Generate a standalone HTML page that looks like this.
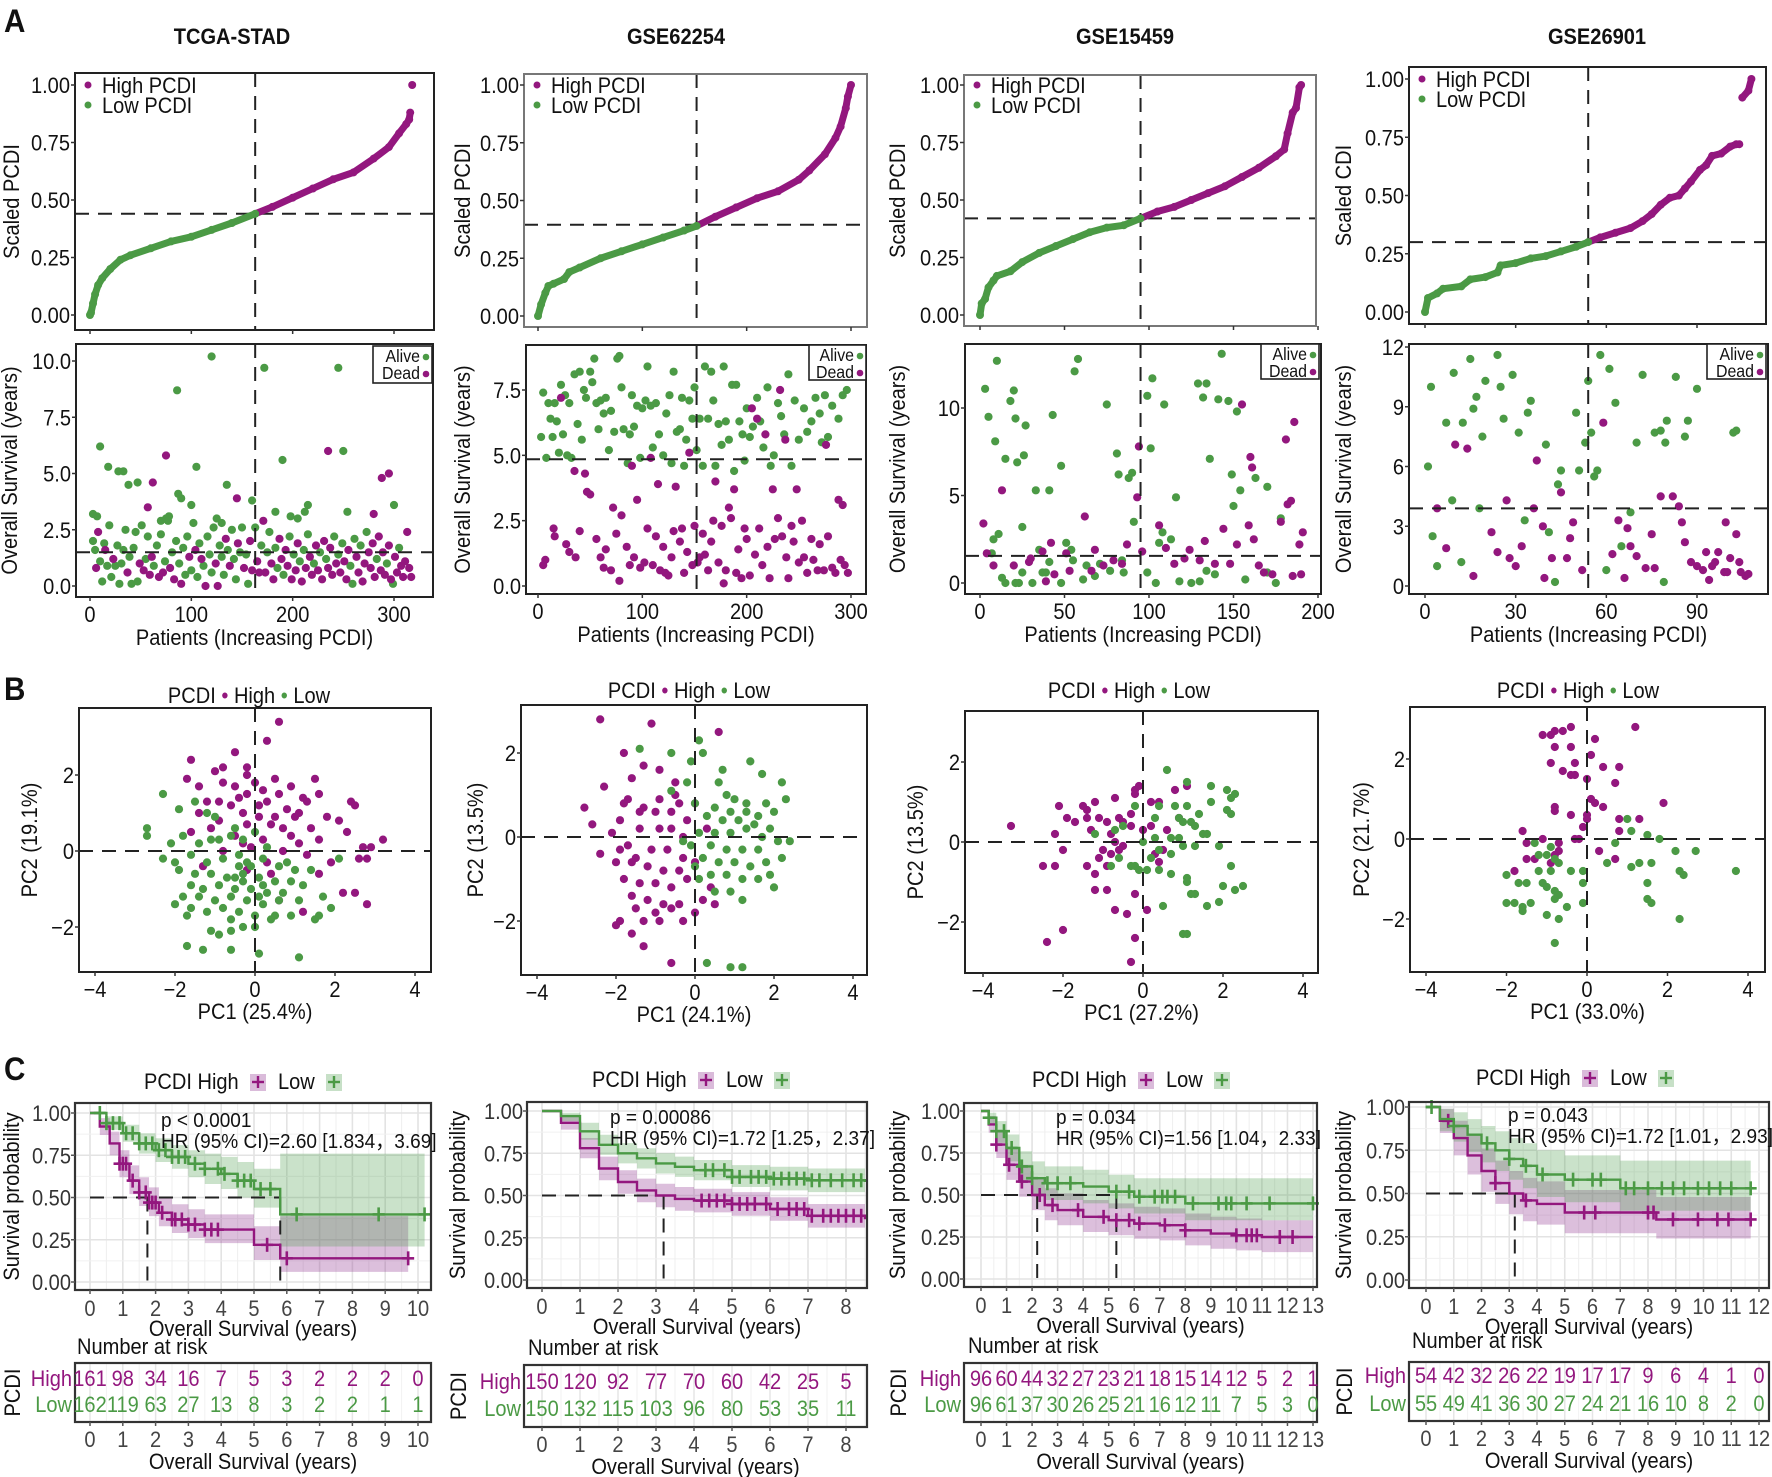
<!DOCTYPE html>
<html><head><meta charset="utf-8"><style>
html,body{margin:0;padding:0;background:#fff;}
svg{display:block;font-family:"Liberation Sans",Arial,sans-serif;}
</style></head><body>
<svg id="fig" width="1772" height="1477" viewBox="0 0 1772 1477" xmlns="http://www.w3.org/2000/svg"></svg>
<script>
// ---------- DATA ----------
const a1Curve=[[0,0],[1,0.01],[3,0.05],[5,0.09],[8,0.13],[12,0.16],[20,0.2],[30,0.24],[40,0.26],[60,0.29],[80,0.32],[100,0.34],[120,0.37],[140,0.4],[163,0.44],[180,0.47],[200,0.51],[220,0.55],[240,0.59],[260,0.62],[280,0.68],[295,0.73],[305,0.79],[312,0.83],[315,0.85],[316,0.88],[318,1.0]];
const a2Curve=[[0,0],[3,0.05],[7,0.1],[10,0.13],[15,0.14],[25,0.16],[30,0.19],[40,0.21],[60,0.25],[80,0.28],[100,0.31],[120,0.34],[140,0.37],[152,0.39],[170,0.43],[190,0.47],[210,0.51],[230,0.54],[250,0.59],[260,0.63],[275,0.7],[285,0.77],[290,0.82],[295,0.9],[297,0.95],[300,1.0]];
const a3Curve=[[0,0],[1,0.05],[3,0.07],[5,0.12],[8,0.15],[10,0.17],[18,0.19],[25,0.23],[35,0.27],[45,0.3],[55,0.33],[65,0.36],[75,0.38],[85,0.39],[95,0.42],[105,0.45],[115,0.47],[125,0.5],[135,0.53],[145,0.56],[155,0.6],[165,0.64],[175,0.69],[180,0.72],[182,0.79],[185,0.88],[187,0.9],[189,0.99],[190,1.0]];
const a4Curve=[[0,0],[1,0.06],[4,0.08],[6,0.1],[12,0.11],[15,0.14],[20,0.15],[24,0.17],[25,0.2],[30,0.21],[35,0.23],[40,0.24],[45,0.26],[50,0.28],[54,0.3],[58,0.32],[63,0.34],[68,0.36],[72,0.39],[75,0.42],[78,0.46],[81,0.49],[84,0.5],[86,0.53],[88,0.56],[91,0.61],[93,0.63],[95,0.67],[98,0.68],[101,0.71],[103,0.72],[104,0.72],[105,0.92],[107,0.95],[108,1.0]];
const aSplit=[163,152,95,54];
const aCut=[0.44,0.395,0.42,0.30];
const aSurvCut=[1.5,4.85,1.55,3.9];

const a1Alive=[[120,10.2],[172,9.7],[245,9.7],[86,8.7],[10,6.2],[18,5.3],[28,5.1],[33,5.1],[38,4.5],[47,4.6],[105,5.3],[135,4.5],[190,5.6],[250,6.0],[160,3.8],[87,4.1],[90,3.9],[100,3.6],[215,3.6],[300,3.6],[254,3.3],[3,3.2],[7,3.1],[183,3.3],[198,3.1],[205,3.0],[212,3.3],[75,3.0],[78,3.1],[70,2.9],[125,3.0],[130,2.8],
[3,2.0],[5,1.6],[10,1.1],[12,0.2],[14,1.9],[17,0.9],[19,2.7],[21,0.4],[25,0.9],[27,1.8],[29,0.1],[31,1.0],[33,1.6],[35,2.5],[39,1.3],[41,0.1],[43,1.7],[45,2.4],[47,0.2],[51,2.7],[55,1.2],[57,2.2],[63,0.9],[66,1.8],[70,2.3],[74,1.1],[77,2.9],[81,1.5],[85,2.0],[88,1.0],[92,1.7],[94,0.5],[96,2.2],[100,0.7],[102,2.8],[106,0.4],[108,1.9],[112,0.9],[116,2.2],[118,1.4],[120,0.6],[122,2.6],[128,1.8],[130,1.3],[132,0.5],[136,1.6],[140,2.5],[142,1.2],[144,0.3],[148,1.5],[150,2.6],[154,1.4],[156,0.1],[163,2.6],[169,1.8],[175,1.5],[177,2.4],[183,1.7],[185,0.8],[191,0.5],[197,2.2],[201,1.4],[207,1.1],[211,1.6],[215,2.3],[221,1.0],[227,1.5],[233,1.2],[241,2.2],[245,1.4],[249,1.9],[257,0.9],[259,0.1],[261,2.1],[267,1.8],[273,2.4],[283,1.2],[293,1.0],[299,0.1],[305,1.7]];
const a1Dead=[[75,5.8],[235,6.0],[62,4.6],[57,3.5],[288,4.8],[295,5.0],[145,3.9],[280,3.2],[8,2.4],[6,0.8],[15,1.6],[23,1.2],[37,0.6],[49,1.0],[53,0.7],[59,0.5],[61,1.3],[68,0.4],[72,0.6],[79,0.8],[83,0.3],[90,0.1],[98,1.3],[104,1.6],[110,1.2],[114,0.0],[124,1.0],[126,0.0],[134,2.1],[138,0.9],[146,1.9],[152,0.8],[158,2.0],[160,0.7],[165,1.1],[167,0.6],[171,2.9],[173,0.6],[179,1.0],[181,0.3],[187,2.1],[189,1.2],[193,1.6],[195,0.9],[199,0.3],[203,0.7],[205,1.9],[209,0.2],[213,0.8],[217,1.3],[219,0.5],[223,1.8],[225,0.7],[229,0.3],[231,2.0],[235,0.8],[237,1.7],[239,0.5],[243,1.0],[247,0.6],[251,1.1],[253,0.3],[255,1.6],[263,1.3],[265,0.6],[269,0.2],[271,1.0],[275,1.5],[277,0.8],[279,1.9],[281,0.4],[285,2.2],[287,0.7],[289,1.5],[291,0.5],[295,1.8],[297,0.3],[301,1.3],[303,0.6],[307,0.9],[309,0.4],[311,1.1],[313,2.4],[315,0.8],[317,0.4]];

const a2Alive=[[3,5.7],[5,7.4],[8,4.9],[10,7.0],[12,6.4],[14,5.7],[16,7.0],[18,6.3],[20,5.1],[22,7.7],[24,5.8],[26,7.3],[28,5.0],[30,7.0],[32,4.9],[35,8.1],[38,6.2],[40,8.2],[42,5.6],[44,7.5],[46,7.2],[50,8.2],[52,7.8],[54,8.7],[56,7.0],[58,6.0],[60,7.1],[63,6.6],[65,7.2],[68,5.2],[70,6.7],[73,5.9],[76,8.7],[78,8.8],[80,7.6],[82,6.0],[86,4.7],[88,5.8],[90,7.3],[92,6.1],[95,6.9],[98,4.9],[100,6.8],[103,7.1],[105,8.4],[108,6.9],[110,5.3],[113,7.0],[116,5.8],[120,5.0],[123,6.6],[126,7.3],[128,4.7],[130,8.2],[133,5.9],[136,6.0],[138,7.2],[140,4.6],[142,5.6],[145,7.1],[148,6.4],[150,7.6],[152,5.2],[155,6.4],[158,4.6],[160,8.4],[163,6.4],[166,8.2],[168,7.1],[170,4.6],[173,6.2],[176,5.4],[178,8.4],[180,6.3],[183,5.6],[186,7.7],[188,4.4],[190,7.7],[193,6.3],[196,5.8],[198,4.8],[200,6.8],[203,5.7],[206,6.1],[210,7.2],[213,6.3],[216,5.3],[220,7.6],[223,4.6],[226,5.0],[230,7.0],[233,6.5],[236,5.8],[240,8.1],[243,4.6],[246,7.1],[250,5.6],[255,6.8],[258,5.9],[262,6.3],[266,7.2],[270,6.6],[272,5.5],[275,7.3],[278,5.7],[282,6.9],[288,6.4],[292,7.3],[296,7.5]];
const a2Dead=[[5,0.8],[7,1.0],[15,2.2],[16,1.9],[22,7.2],[27,1.6],[30,1.3],[35,4.4],[36,1.1],[40,2.1],[45,4.3],[47,3.6],[50,3.5],[56,1.8],[60,1.1],[63,0.7],[65,1.4],[70,0.6],[72,3.0],[75,2.0],[78,0.2],[80,2.7],[85,1.5],[88,0.8],[90,4.6],[92,1.1],[95,3.3],[98,0.7],[102,0.9],[105,2.2],[108,4.9],[110,0.8],[113,1.9],[115,3.9],[117,0.6],[120,1.5],[122,0.5],[125,0.4],[128,1.1],[130,2.1],[132,3.8],[136,1.7],[138,2.2],[140,0.5],[143,1.3],[145,5.1],[148,0.8],[150,2.3],[153,0.9],[155,1.1],[158,2.0],[160,1.2],[163,0.6],[166,1.7],[168,2.5],[170,4.0],[173,0.9],[176,2.3],[178,0.1],[180,0.6],[183,3.0],[185,2.6],[188,3.7],[190,0.5],[192,1.4],[195,0.3],[198,2.2],[200,1.8],[203,0.4],[205,6.8],[208,1.2],[210,6.4],[212,2.2],[215,0.8],[218,5.8],[220,1.5],[222,0.3],[225,3.7],[227,1.8],[230,2.6],[232,7.5],[234,1.9],[237,5.6],[238,1.1],[240,0.3],[243,2.3],[245,1.7],[248,3.7],[250,0.9],[253,2.5],[255,1.1],[258,0.5],[262,1.8],[264,1.0],[268,0.6],[270,1.6],[274,0.6],[276,5.4],[278,1.9],[282,0.7],[285,0.5],[288,3.3],[290,1.0],[292,3.1],[294,0.8],[297,0.5]];

const a3Alive=[[3,11.1],[5,9.5],[9,8.1],[10,12.7],[11,2.8],[15,7.1],[18,10.4],[20,11.0],[21,9.4],[22,6.9],[27,9.0],[26,7.3],[25,3.2],[33,5.3],[41,5.3],[43,9.6],[48,6.7],[56,12.1],[58,12.8],[75,10.2],[81,7.4],[82,6.2],[88,6.0],[90,6.3],[91,3.5],[99,10.7],[101,7.7],[102,11.7],[109,10.2],[116,4.9],[129,11.4],[134,11.4],[132,10.6],[136,7.1],[141,10.5],[143,13.1],[147,10.4],[149,6.2],[150,4.4],[152,9.8],[154,5.3],[163,6.0],[170,5.5],[178,3.7],[7,1.7],[8,2.5],[13,0.3],[15,0],[21,0],[23,0],[25,0.6],[31,0],[35,1.9],[37,0.6],[39,0.6],[41,1.2],[48,0],[51,2.3],[54,1.9],[55,1.3],[61,0.2],[63,1.0],[68,0.4],[71,1.1],[77,0.7],[84,1.3],[85,0.6],[99,0.6],[104,0],[106,2.3],[108,2.9],[113,2.5],[118,0.1],[125,0],[130,0.1],[134,0.7],[139,0.5],[157,0.2],[170,0.6],[175,0]];
const a3Dead=[[2,3.4],[4,1.7],[8,1.0],[13,5.3],[20,1.0],[29,1.2],[30,1.4],[37,1.8],[39,0.1],[42,2.3],[44,0.5],[51,1.7],[53,0.7],[62,3.8],[66,0.7],[68,1.9],[73,1.0],[79,1.3],[84,1.1],[87,2.2],[93,4.9],[94,7.8],[96,1.8],[106,3.3],[110,2.0],[115,1.1],[121,1.4],[124,1.9],[130,1.3],[133,2.4],[139,1.1],[144,3.1],[148,1.1],[152,2.2],[155,10.2],[159,3.3],[160,7.2],[161,6.6],[162,2.5],[165,1.0],[168,0.6],[173,0.5],[178,3.5],[181,8.2],[182,4.5],[184,4.7],[186,9.2],[189,2.2],[191,2.9],[190,0.5],[185,0.4]];

const a4Alive=[[1,6.0],[2,10.0],[2.5,2.5],[4,1.0],[7,8.2],[9,4.3],[9.5,10.7],[12,1.2],[12.5,8.2],[15,11.4],[16,8.9],[17,9.5],[18,3.9],[19,7.5],[20,10.3],[24,11.6],[25,10.0],[26,8.4],[29,10.6],[31,7.7],[33,3.3],[34,8.7],[35,9.3],[40,7.1],[41,2.7],[43,0.2],[44,5.1],[45,5.8],[50,8.7],[51,5.8],[53,7.2],[54,10.3],[55,7.7],[56,5.5],[57,5.8],[58,11.6],[61,10.9],[60,0.8],[63,9.2],[65,2.0],[68,3.7],[70,7.2],[72,10.6],[76,7.7],[78,7.8],[79,0.2],[79.5,7.2],[80,8.3],[83,10.5],[86,7.5],[87,8.3],[90,9.9],[102,7.7],[103,7.8]];
const a4Dead=[[4,3.9],[7,1.9],[10,7.1],[14,6.9],[16,0.5],[22,2.7],[24,1.7],[27,4.3],[28,1.4],[30,1.0],[32,2.0],[36,3.9],[37,6.3],[39,3.0],[39.5,0.4],[42,1.4],[45,4.7],[47,1.4],[48,2.4],[49,3.2],[52,0.8],[59,8.2],[62,1.6],[64,3.3],[67,2.9],[66,0.4],[68,2.0],[70,1.5],[73,0.9],[75,2.6],[76,0.9],[78,4.5],[82,4.5],[84,4.0],[85,3.2],[86,2.2],[88,1.2],[90,1.0],[92,0.8],[93,1.7],[94,0.3],[95,1.0],[96,1.2],[97,1.7],[99,0.7],[99.5,3.2],[101,1.4],[103,2.6],[100,0.7],[104,1.2],[104.5,0.7],[106,0.5],[107,0.6]];

const b1High=[[0.6,3.4],[0.3,2.9],[-0.5,2.6],[-1.6,2.4],[-0.8,2.2],[-1,2.1],[-0.2,2.2],[-0.2,2.0],[-1.7,1.9],[-1.4,1.7],[-0.8,1.8],[-0.5,1.7],[0,1.8],[0.5,1.9],[0.9,1.7],[1.5,1.9],[-0.2,1.5],[0.2,1.6],[0.6,1.5],[1.2,1.4],[1.6,1.5],[2.4,1.3],[2.5,1.2],[-1.2,1.3],[-0.9,1.3],[-0.6,1.2],[0.1,1.2],[0.8,1.1],[1.3,1.3],[-1.4,1.0],[-0.3,1.0],[0.5,0.9],[1.0,0.9],[1.8,0.9],[2.1,0.8],[-0.9,0.8],[-1.1,0.6],[-0.2,0.7],[0.4,0.7],[1.4,0.6],[2.3,0.5],[-1.6,0.5],[-0.5,0.4],[0.9,0.4],[1.6,0.3],[0.2,0.3],[-0.3,0.2],[1.1,0.2],[2.7,0.1],[3.2,0.3],[2.9,0.1],[-0.1,0.1],[0.7,0],[1.3,-0.1],[2.6,-0.2],[2.8,-0.2],[0.3,-0.3],[1.9,-0.3],[-1.3,-0.4],[0.4,-0.6],[2.2,-1.1],[2.5,-1.1],[2.8,-1.4],[1.2,-1.6],[0.6,-1.3],[-0.2,-0.5],[1.6,-0.6],[-0.8,0.0],[0.1,0.9],[0.7,0.6],[1.1,1.0],[-0.4,1.4],[0.3,1.3]];
const b1Low=[[-2.3,1.5],[-1.9,1.1],[-1.5,1.3],[-1.2,1.0],[-1.0,0.9],[-2.7,0.6],[-2.7,0.4],[-2.1,0.2],[-1.8,0.4],[-1.4,0.2],[-1.1,0.3],[-0.6,0.4],[-0.3,0.3],[-2.3,-0.2],[-2.0,-0.3],[-1.6,-0.1],[-1.2,-0.3],[-0.8,-0.2],[-0.4,-0.1],[0.2,-0.2],[0.6,-0.4],[1.0,-0.5],[1.4,-0.5],[2.1,-0.2],[-1.9,-0.5],[-1.5,-0.6],[-1.1,-0.6],[-0.7,-0.7],[-0.3,-0.6],[0.1,-0.7],[0.5,-0.8],[0.9,-0.8],[-1.6,-0.9],[-1.3,-1.0],[-0.9,-0.9],[-0.5,-1.0],[-0.1,-1.0],[0.3,-1.1],[0.7,-1.1],[-1.8,-1.2],[-1.4,-1.2],[-1.0,-1.3],[-0.6,-1.2],[-0.2,-1.3],[0.2,-1.4],[0.6,-1.3],[1.1,-1.3],[1.7,-1.2],[-2.0,-1.4],[-1.6,-1.5],[-1.2,-1.6],[-0.8,-1.5],[-0.4,-1.6],[0.0,-1.7],[0.5,-1.7],[1.6,-1.7],[1.9,-1.5],[-1.7,-1.7],[-0.6,-1.8],[0.4,-1.8],[0.9,-1.7],[1.5,-1.8],[-1.1,-2.1],[-0.6,-2.1],[-0.3,-2.0],[-0.9,-2.2],[0,-2.0],[-1.7,-2.5],[-1.3,-2.6],[-0.6,-2.6],[0.1,-2.7],[1.1,-2.8],[-0.2,-0.3],[0.3,0.1],[-0.5,0.6],[-0.9,0.3],[0.0,0.5],[-0.4,-0.4],[0.8,-0.3],[1.2,-0.9],[-0.3,-0.8],[0.1,-1.2],[-0.1,-0.4],[-0.5,-0.7],[0.2,-0.9]];

const b2High=[[-2.4,2.8],[-1.1,2.7],[0.6,2.5],[-1.8,2.0],[-1.3,1.7],[-0.9,1.6],[-1.6,1.4],[-0.5,1.3],[-2.3,1.2],[-1.7,0.9],[-2.8,0.7],[-1.8,0.8],[-1.3,0.7],[-0.9,0.9],[-0.4,0.8],[-2.6,0.3],[-1.9,0.4],[-1.4,0.6],[-1.0,0.6],[-0.6,0.6],[-0.2,0.4],[-2.1,0.1],[-1.7,-0.2],[-1.4,0.2],[-0.9,0.2],[-0.6,0.2],[-0.3,0.0],[-2.4,-0.4],[-1.9,-0.3],[-1.5,-0.5],[-1.1,-0.3],[-0.7,-0.3],[-0.3,-0.5],[0.3,0.2],[-2.0,-0.6],[-1.6,-0.6],[-1.2,-0.7],[-0.8,-0.8],[-0.4,-0.8],[0.0,-0.6],[-1.8,-1.0],[-1.4,-1.1],[-1.0,-1.1],[-0.6,-1.2],[-0.2,-1.0],[0.4,-1.2],[-1.6,-1.4],[-1.2,-1.5],[-0.8,-1.6],[-0.4,-1.6],[0.2,-1.5],[-1.5,-1.7],[-1.0,-1.8],[-0.6,-1.7],[0.0,-1.8],[-1.9,-2.0],[-2.0,-2.1],[-1.3,-2.0],[-0.9,-2.0],[-0.3,-2.0],[-1.6,-2.3],[-1.3,-2.6],[-0.6,-3.0],[0.5,-1.6],[0.0,0.8],[-0.5,1.0]];
const b2Low=[[-1.4,2.1],[-0.6,2.0],[0.1,2.3],[-0.1,1.8],[0.2,2.0],[0.7,1.6],[1.4,1.8],[1.7,1.5],[-0.2,1.3],[0.6,1.3],[2.2,1.3],[-0.6,1.1],[0.8,1.0],[1.0,0.9],[1.3,0.8],[1.8,0.8],[2.3,0.9],[0.0,0.8],[0.5,0.7],[0.9,0.6],[1.3,0.6],[1.6,0.5],[2.0,0.6],[0.3,0.5],[0.7,0.4],[1.1,0.4],[1.5,0.3],[1.9,0.2],[0.1,0.1],[0.5,0.1],[0.9,0.1],[1.3,0.2],[1.7,0.0],[2.1,-0.1],[2.4,-0.1],[-0.1,-0.2],[0.4,-0.2],[0.8,-0.3],[1.2,-0.3],[1.6,-0.3],[2.2,-0.5],[0.2,-0.5],[0.6,-0.6],[1.0,-0.6],[1.4,-0.7],[1.8,-0.6],[0.0,-0.7],[0.4,-0.9],[0.8,-0.9],[1.2,-1.0],[1.6,-1.0],[2.0,-1.2],[0.5,-1.3],[0.9,-1.3],[1.2,-1.5],[0.3,-3.0],[0.9,-3.1],[1.2,-3.1],[-0.3,-0.1],[0.1,-1.0],[1.9,-0.9]];

const b3High=[[-3.3,0.4],[-2.2,0.2],[-2.5,-0.6],[-2.2,-0.6],[-2.0,-0.2],[-1.3,0.3],[-1.9,0.6],[-1.7,0.5],[-1.4,0.6],[-1.4,0.8],[-1.5,0.9],[-2.1,0.9],[-1.2,1.0],[-1.1,0.6],[-0.9,0.5],[-0.7,1.1],[-0.6,0.6],[-0.3,0.7],[-0.2,1.3],[-0.1,1.4],[-0.2,1.2],[0.2,1.0],[0.4,1.0],[0.8,1.3],[1.1,1.4],[0.9,0.6],[0.6,0.3],[0.2,0.4],[-0.3,0.4],[-0.5,0.5],[-0.8,0.2],[-1.0,-0.2],[-1.1,-0.4],[-0.8,-0.3],[-0.5,-0.1],[-1.4,-0.6],[-1.2,-0.8],[-0.9,-0.6],[-0.6,-0.2],[0.3,-0.3],[0.5,-0.2],[0.4,-0.5],[-1.2,-1.2],[-0.9,-1.2],[-0.2,-1.3],[-0.7,-1.7],[-0.4,-1.8],[0.1,-1.7],[-2.0,-2.2],[-2.4,-2.5],[-0.2,-2.4],[-0.3,-3.0],[-0.7,0.0],[0.0,0.3]];
const b3Low=[[0.6,1.8],[1.1,1.5],[1.7,1.4],[2.1,1.3],[2.3,1.2],[2.2,1.1],[1.7,1.0],[1.1,0.9],[0.8,0.9],[0.4,0.9],[-0.2,0.9],[1.4,0.7],[2.1,0.8],[2.2,0.7],[0.9,0.6],[1.0,0.5],[1.2,0.5],[1.3,0.4],[1.6,0.2],[1.5,0.2],[0.3,0.6],[-0.5,0.4],[-0.7,0.3],[-1.2,0.2],[0.0,0.0],[0.3,0.1],[0.7,0.1],[0.9,0.1],[1.9,-0.1],[1.3,-0.1],[0.4,-0.2],[0.7,-0.3],[1.0,-0.1],[-0.6,-0.4],[-0.3,-0.6],[-0.2,-0.6],[0.1,-0.7],[0.4,-0.7],[0.7,-0.8],[1.1,-0.9],[1.1,-1.0],[2.2,-0.6],[2.0,-1.1],[2.3,-1.2],[2.5,-1.1],[1.2,-1.3],[1.3,-1.3],[1.9,-1.5],[1.6,-1.6],[0.5,-1.6],[1.0,-2.3],[1.1,-2.3],[-0.1,-0.7],[0.2,-0.4],[-0.8,-0.6]];

const b4High=[[1.2,2.8],[-0.4,2.8],[-0.6,2.7],[-1.1,2.6],[-0.9,2.6],[-0.8,2.7],[0.2,2.5],[-0.4,2.3],[-0.8,2.3],[0.1,2.1],[-0.9,1.9],[-0.3,1.9],[0.8,1.8],[0.4,1.8],[-0.6,1.7],[-0.4,1.6],[-0.3,1.6],[0.0,1.5],[0.7,1.4],[0.1,1.0],[0.2,0.9],[1.9,0.9],[-0.8,0.8],[-0.8,0.7],[0.4,0.8],[-0.4,0.6],[0.0,0.6],[0.8,0.5],[1.3,0.5],[-0.1,0.3],[0.0,0.5],[0.8,0.2],[-1.6,0.2],[-1.1,0.0],[-0.3,0.0],[-0.2,0.0],[-1.5,-0.1],[-0.7,-0.1],[-0.7,-0.3],[0.3,-0.3],[-0.8,-0.4],[-1.5,-0.5],[-1.3,-0.5],[-0.9,-0.6],[0.7,-0.5],[-1.8,-0.8]];
const b4Low=[[1.0,0.5],[1.1,0.2],[1.5,0.1],[1.8,0.0],[0.7,-0.1],[-1.3,-0.1],[-0.9,-0.2],[2.2,-0.3],[2.7,-0.3],[-1.2,-0.4],[-1.0,-0.4],[-0.8,-0.5],[-0.7,-0.6],[0.5,-0.6],[1.3,-0.6],[1.6,-0.6],[1.1,-0.7],[-0.1,-0.8],[-0.4,-0.8],[-0.9,-0.8],[-1.2,-0.8],[2.3,-0.8],[2.4,-0.9],[3.7,-0.8],[-2.0,-0.9],[-1.7,-1.1],[-1.5,-1.1],[-1.1,-1.1],[-1.0,-1.2],[-0.8,-1.3],[-0.1,-1.1],[-0.7,-1.4],[1.5,-1.1],[1.5,-1.5],[-0.8,-1.5],[-1.4,-1.6],[-1.8,-1.6],[-2.0,-1.6],[-1.6,-1.7],[1.6,-1.6],[-0.5,-1.7],[-0.1,-1.6],[-1.6,-1.8],[-1.0,-1.9],[-0.7,-2.0],[2.3,-2.0],[-0.8,-2.6]];
const bPct=[["25.4","19.1"],["24.1","13.5"],["27.2","13.5"],["33.0","21.7"]];

// KM data
const c1HighT=[0,0.3,0.6,0.9,1.2,1.5,1.8,2.1,2.5,3,3.5,4.5,5,5.8,9.7];
const c1HighS=[1,0.92,0.82,0.70,0.60,0.53,0.47,0.41,0.37,0.34,0.31,0.31,0.22,0.14,0.14];
const c1HighU=[1,0.97,0.89,0.78,0.69,0.62,0.56,0.50,0.46,0.43,0.40,0.40,0.33,0.39,0.39];
const c1HighL=[1,0.87,0.75,0.62,0.52,0.45,0.39,0.33,0.29,0.26,0.23,0.23,0.13,0.06,0.06];
const c1LowT=[0,0.5,1,1.5,2,2.5,3,3.5,4,4.5,5,5.8,10.2];
const c1LowS=[1,0.94,0.88,0.82,0.78,0.74,0.70,0.67,0.64,0.60,0.55,0.40,0.40];
const c1LowU=[1,0.98,0.93,0.88,0.85,0.81,0.78,0.76,0.74,0.71,0.67,0.76,0.76];
const c1LowL=[1,0.90,0.83,0.76,0.71,0.67,0.62,0.58,0.55,0.50,0.44,0.21,0.21];
const c1HighCens=[0.9,1.0,1.1,1.3,1.5,1.7,1.8,1.9,2.0,2.2,2.5,2.6,2.8,3.0,3.2,3.5,3.7,3.9,5.4,6.0,9.7];
const c1LowCens=[0.3,0.5,0.7,0.9,1.1,1.3,1.5,1.7,1.9,2.1,2.3,2.5,2.7,2.9,3.2,3.5,3.9,4.1,4.5,4.7,4.9,5.2,5.5,6.3,8.8,10.2];

const c2HighT=[0,0.5,1,1.5,2,2.5,3,3.5,4,5,6,7,8.5];
const c2HighS=[1,0.93,0.78,0.66,0.58,0.53,0.50,0.48,0.47,0.45,0.42,0.38,0.36];
const c2HighU=[1,0.97,0.84,0.73,0.65,0.60,0.57,0.55,0.54,0.52,0.49,0.45,0.45];
const c2HighL=[1,0.89,0.72,0.59,0.51,0.46,0.43,0.41,0.40,0.38,0.35,0.31,0.28];
const c2LowT=[0,0.5,1,1.5,2,2.5,3,3.5,4,5,6,7,8.5];
const c2LowS=[1,0.97,0.88,0.80,0.75,0.72,0.69,0.67,0.65,0.61,0.60,0.59,0.58];
const c2LowU=[1,0.99,0.93,0.86,0.81,0.78,0.75,0.73,0.71,0.68,0.67,0.66,0.65];
const c2LowL=[1,0.94,0.83,0.74,0.69,0.66,0.63,0.61,0.59,0.55,0.53,0.52,0.50];
const c2HighCens=[4.2,4.4,4.6,4.8,5.0,5.2,5.4,5.6,5.9,6.2,6.5,6.7,6.9,7.1,7.4,7.6,7.8,8.0,8.2,8.4];
const c2LowCens=[4.3,4.5,4.8,5.0,5.2,5.5,5.7,5.9,6.1,6.3,6.5,6.7,6.9,7.1,7.3,7.6,7.9,8.2,8.4];

const c3HighT=[0,0.3,0.6,1,1.5,2,2.5,3,4,5,6,7,8,9,10,11,13];
const c3HighS=[1,0.92,0.80,0.68,0.58,0.50,0.44,0.41,0.37,0.35,0.33,0.32,0.29,0.27,0.26,0.25,0.25];
const c3HighU=[1,0.97,0.88,0.77,0.68,0.60,0.54,0.51,0.47,0.45,0.43,0.42,0.39,0.37,0.36,0.35,0.35];
const c3HighL=[1,0.87,0.72,0.59,0.49,0.41,0.35,0.32,0.28,0.26,0.24,0.23,0.20,0.18,0.17,0.16,0.16];
const c3LowT=[0,0.3,0.6,1,1.5,2,2.5,3,4,5,6,7,8,9,10,13];
const c3LowS=[1,0.96,0.88,0.78,0.67,0.60,0.57,0.57,0.55,0.52,0.49,0.49,0.45,0.45,0.45,0.45];
const c3LowU=[1,0.99,0.94,0.86,0.76,0.70,0.67,0.67,0.65,0.62,0.60,0.60,0.60,0.60,0.60,0.60];
const c3LowL=[1,0.92,0.81,0.70,0.58,0.50,0.47,0.47,0.45,0.42,0.39,0.39,0.35,0.35,0.35,0.35];
const c3HighCens=[0.6,1.1,1.6,2.3,2.8,3.8,4.8,5.3,5.8,6.2,7.2,8.0,10.0,10.4,10.6,10.8,11.7,12.2];
const c3LowCens=[0.3,0.6,0.9,1.2,1.6,2.0,2.6,3.0,3.5,5.3,5.8,6.2,6.8,7.1,7.3,7.6,8.3,9.3,9.6,9.8,10.4,11.3,13.0];

const c4HighT=[0,0.5,1,1.5,2,2.5,3,3.5,4,5,6,7,8,8.3,11.7];
const c4HighS=[1,0.92,0.82,0.72,0.63,0.56,0.50,0.46,0.44,0.39,0.39,0.39,0.39,0.35,0.35];
const c4HighU=[1,0.99,0.92,0.84,0.76,0.69,0.63,0.59,0.57,0.52,0.52,0.52,0.52,0.48,0.48];
const c4HighL=[1,0.85,0.72,0.61,0.51,0.44,0.38,0.34,0.32,0.27,0.27,0.27,0.27,0.24,0.24];
const c4LowT=[0,0.5,1,1.5,2,2.5,3,3.5,4,5,6,7,8,11.7];
const c4LowS=[1,0.93,0.89,0.84,0.79,0.75,0.70,0.66,0.61,0.58,0.58,0.53,0.53,0.53];
const c4LowU=[1,0.99,0.97,0.93,0.89,0.86,0.82,0.79,0.75,0.72,0.72,0.69,0.69,0.69];
const c4LowL=[1,0.86,0.80,0.74,0.68,0.63,0.58,0.53,0.48,0.45,0.45,0.40,0.40,0.40];
const c4HighCens=[0.8,2.5,3.6,5.7,6.1,8.0,8.2,8.9,9.8,10.5,10.9,11.7];
const c4LowCens=[0.2,1.0,2.2,3.0,3.6,4.2,5.3,6.0,6.3,7.2,7.5,8.0,8.5,8.9,9.3,9.8,10.2,10.6,11.0,11.7];

const cMedians=[[1.75,5.8],[3.2],[2.2,5.3],[3.2]];
const cP=["p < 0.0001","p = 0.00086","p = 0.034","p = 0.043"];
const cHR=["HR (95% CI)=2.60 [1.834，3.69]","HR (95% CI)=1.72 [1.25，2.37]","HR (95% CI)=1.56 [1.04，2.33]","HR (95% CI)=1.72 [1.01，2.93]"];
const c1RiskHigh=[161,98,34,16,7,5,3,2,2,2,0];
const c1RiskLow=[162,119,63,27,13,8,3,2,2,1,1];
const c2RiskHigh=[150,120,92,77,70,60,42,25,5];
const c2RiskLow=[150,132,115,103,96,80,53,35,11];
const c3RiskHigh=[96,60,44,32,27,23,21,18,15,14,12,5,2,1];
const c3RiskLow=[96,61,37,30,26,25,21,16,12,11,7,5,3,0];
const c4RiskHigh=[54,42,32,26,22,19,17,17,9,6,4,1,0];
const c4RiskLow=[55,49,41,36,30,27,24,21,16,10,8,2,0];

// ---------- DRAWING ----------
const NS='http://www.w3.org/2000/svg';
const svg=document.getElementById('fig');
const P='#93177e', G='#4b9a45';
const FS=1.15, SX=0.92;
function lin(v0,p0,v1,p1){return v=>p0+(v-v0)*(p1-p0)/(v1-v0);}
function mk(tag,attrs,parent){const e=document.createElementNS(NS,tag);for(const k in attrs)e.setAttribute(k,attrs[k]);(parent||svg).appendChild(e);return e;}
function txt(parent,x,y,s,size,anchor,name,extra){
  const e=mk('text',Object.assign({x:0,y:0,'font-size':(size*FS).toFixed(1),'text-anchor':anchor||'start',fill:'#111',transform:'translate('+x+' '+y+') scale('+SX+' 1)'},extra||{}),parent);
  e.textContent=s;
  
  
  return e;}
function vtxt(parent,x,y,s,size,name,fill){
  const e=mk('text',{x:0,y:0,'font-size':(size*FS).toFixed(1),'text-anchor':'middle',fill:fill||'#111',transform:'translate('+x+' '+y+') rotate(-90) scale('+SX+' 1)'},parent);
  e.textContent=s;
  
  
  return e;}
function grp(name){const g=mk('g',{});
  
  
  return g;}
function dot(parent,x,y,r,fill,name){const c=mk('circle',{cx:x.toFixed(1),cy:y.toFixed(1),r:r,fill:fill},parent);
  
  
  return c;}
function line(parent,x1,y1,x2,y2,stroke,w,dash,name){const l=mk('line',{x1:x1,y1:y1,x2:x2,y2:y2,stroke:stroke,'stroke-width':w},parent);
  if(dash)l.setAttribute('stroke-dasharray',dash);
  
  
  return l;}
function box(parent,b,stroke,w,name){const r=mk('rect',{x:b[0],y:b[1],width:b[2]-b[0],height:b[3]-b[1],fill:'none',stroke:stroke,'stroke-width':w},parent);
  
  
  return r;}

// panel letters & titles
txt(svg,4,32,'A',28,'start','panel-label-a',{'font-weight':'bold'});
txt(svg,4,700,'B',28,'start','panel-label-b',{'font-weight':'bold'});
txt(svg,4,1080,'C',28,'start','panel-label-c',{'font-weight':'bold'});
const titles=['TCGA-STAD','GSE62254','GSE15459','GSE26901'];
const titleX=[232,676,1125,1597];
titles.forEach((t,i)=>txt(svg,titleX[i],44,t,19,'middle','dataset-title',{'font-weight':'bold'}));

// ---- Row A top
const aTopCfg=[
 {b:[75,73,434,330],x:[0,90,300,394],y:[315,85],ticks:[0,100,200,300],lab:'Scaled PCDI',lx:17,bc:'#222'},
 {b:[524,74,867,327],x:[0,538,300,851],y:[316,85],ticks:[0,100,200,300],lab:'Scaled PCDI',lx:468,bc:'#777'},
 {b:[964,75,1316,326],x:[0,980,200,1318],y:[315,85],ticks:[0,50,100,150,200],lab:'Scaled PCDI',lx:903,bc:'#777'},
 {b:[1409,67,1766,324],x:[0,1425,90,1697],y:[312,79],ticks:[0,30,60,90],lab:'Scaled CDI',lx:1349,bc:'#222'}];
const aCurves=[a1Curve,a2Curve,a3Curve,a4Curve];
aTopCfg.forEach((c,i)=>{
  const g=grp('risk-score-panel');
  const X=lin(c.x[0],c.x[1],c.x[2],c.x[3]), Y=lin(0,c.y[0],1,c.y[1]);
  line(g,c.b[0],Y(aCut[i]),c.b[2],Y(aCut[i]),'#222',2,'14 9','cutoff-hline');
  line(g,X(aSplit[i]),c.b[1],X(aSplit[i]),c.b[3],'#222',2,'14 9','cutoff-vline');
  const pts=aCurves[i];
  for(let k=1;k<pts.length;k++){
    if(Math.abs(pts[k][1]-pts[k-1][1])>0.09)continue;
    const col=pts[k][0]>aSplit[i]?P:G;
    line(g,X(pts[k-1][0]),Y(pts[k-1][1]),X(pts[k][0]),Y(pts[k][1]),col,7,null,'curve-seg').setAttribute('stroke-linecap','round');
  }
  pts.forEach(p=>dot(g,X(p[0]),Y(p[1]),4,p[0]>aSplit[i]?P:G,'risk-point'));
  box(g,c.b,c.bc,2,'plot-frame');
  [0,0.25,0.5,0.75,1].forEach(v=>{line(g,c.b[0]-4,Y(v),c.b[0],Y(v),'#333',1.5,null,'y-tick');
    txt(g,c.b[0]-5,Y(v)+8,v.toFixed(2),19,'end','y-tick-label');});
  c.ticks.forEach(v=>line(g,X(v),c.b[3],X(v),c.b[3]+4,'#333',1.5,null,'x-tick'));
  vtxt(g,c.lx+2,(c.b[1]+c.b[3])/2,c.lab,19,'y-axis-title');
  const ly=Y(1);
  dot(g,c.b[0]+13,ly,3.5,P,'legend-high-dot');
  txt(g,c.b[0]+27,ly+8,'High PCDI',19,'start','legend-high');
  dot(g,c.b[0]+13,ly+20,3.5,G,'legend-low-dot');
  txt(g,c.b[0]+27,ly+28,'Low  PCDI',19,'start','legend-low',{'xml:space':'preserve'});
});

// ---- Row A bottom
const aBotCfg=[
 {b:[76,344,433,597],x:[0,90,300,394],y:[0,586,10,361],yt:[[0,'0.0'],[2.5,'2.5'],[5,'5.0'],[7.5,'7.5'],[10,'10.0']],ticks:[0,100,200,300],lx:15,lg:[373,346,432,383]},
 {b:[526,345,866,594],x:[0,538,300,851],y:[0,586,7.5,390],yt:[[0,'0.0'],[2.5,'2.5'],[5,'5.0'],[7.5,'7.5']],ticks:[0,100,200,300],lx:468,lg:[809,345,866,380]},
 {b:[965,344,1321,594],x:[0,980,200,1318],y:[0,583,10,408],yt:[[0,'0'],[5,'5'],[10,'10']],ticks:[0,50,100,150,200],lx:903,lg:[1261,344,1319,379]},
 {b:[1409,344,1768,594],x:[0,1425,90,1697],y:[0,586,12,347],yt:[[0,'0'],[3,'3'],[6,'6'],[9,'9'],[12,'12']],ticks:[0,30,60,90],lx:1349,lg:[1707,344,1766,379]}];
const aAlive=[a1Alive,a2Alive,a3Alive,a4Alive], aDead=[a1Dead,a2Dead,a3Dead,a4Dead];
aBotCfg.forEach((c,i)=>{
  const g=grp('survival-status-panel');
  const X=lin(c.x[0],c.x[1],c.x[2],c.x[3]), Y=lin(c.y[0],c.y[1],c.y[2],c.y[3]);
  aAlive[i].forEach(p=>dot(g,X(p[0]),Y(p[1]),4.1,G,'alive-point'));
  aDead[i].forEach(p=>dot(g,X(p[0]),Y(p[1]),4.1,P,'dead-point'));
  line(g,c.b[0],Y(aSurvCut[i]),c.b[2],Y(aSurvCut[i]),'#222',2,'14 9','survival-hline');
  line(g,X(aSplit[i]),c.b[1],X(aSplit[i]),c.b[3],'#222',2,'14 9','cutoff-vline');
  box(g,c.b,'#222',2,'plot-frame');
  c.yt.forEach(t=>{line(g,c.b[0]-4,Y(t[0]),c.b[0],Y(t[0]),'#333',1.5,null,'y-tick');
    txt(g,c.b[0]-5,Y(t[0])+8,t[1],19,'end','y-tick-label');});
  c.ticks.forEach(v=>{line(g,X(v),c.b[3],X(v),c.b[3]+4,'#333',1.5,null,'x-tick');
    txt(g,X(v),c.b[3]+25,String(v),19,'middle','x-tick-label');});
  txt(g,(c.b[0]+c.b[2])/2,c.b[3]+48,'Patients (Increasing PCDI)',19,'middle','x-axis-title');
  vtxt(g,c.lx+2,(c.b[1]+c.b[3])/2,'Overall Survival (years)',19,'y-axis-title');
  const L=c.lg;
  const lg=grp('status-legend');
  mk('rect',{x:L[0],y:L[1],width:L[2]-L[0],height:L[3]-L[1],fill:'#fff',stroke:'#222','stroke-width':1.6},lg);
  txt(lg,L[2]-12,L[1]+16,'Alive',15,'end','legend-alive');
  dot(lg,L[2]-6,L[1]+11,3.3,G,'legend-alive-dot');
  txt(lg,L[2]-12,L[1]+33,'Dead',15,'end','legend-dead');
  dot(lg,L[2]-6,L[1]+28,3.3,P,'legend-dead-dot');
});

// ---- Row B
const bCfg=[
 {b:[79,708,431,972],x:[0,255,4,415],y:[0,851,2,775],lx:37,tx:249,ty:703},
 {b:[521,705,867,975],x:[0,695,4,853],y:[0,837,2,753],lx:483,tx:689,ty:698},
 {b:[965,711,1318,973],x:[0,1143,4,1303],y:[0,842,2,762],lx:923,tx:1129,ty:698},
 {b:[1410,707,1765,972],x:[0,1587,4,1748],y:[0,839,2,759],lx:1369,tx:1578,ty:698}];
const bHigh=[b1High,b2High,b3High,b4High], bLow=[b1Low,b2Low,b3Low,b4Low];
bCfg.forEach((c,i)=>{
  const g=grp('pca-panel');
  const X=lin(c.x[0],c.x[1],c.x[2],c.x[3]), Y=lin(c.y[0],c.y[1],c.y[2],c.y[3]);
  bHigh[i].forEach(p=>dot(g,X(p[0]),Y(p[1]),4.1,P,'pca-high-point'));
  bLow[i].forEach(p=>dot(g,X(p[0]),Y(p[1]),4.1,G,'pca-low-point'));
  line(g,c.b[0],Y(0),c.b[2],Y(0),'#222',2,'14 9','zero-hline');
  line(g,X(0),c.b[1],X(0),c.b[3],'#222',2,'14 9','zero-vline');
  box(g,c.b,'#222',2,'plot-frame');
  [-2,0,2].forEach(v=>{line(g,c.b[0]-4,Y(v),c.b[0],Y(v),'#333',1.5,null,'y-tick');
    txt(g,c.b[0]-5,Y(v)+8,v<0?'−'+(-v):String(v),19,'end','y-tick-label');});
  [-4,-2,0,2,4].forEach(v=>{line(g,X(v),c.b[3],X(v),c.b[3]+4,'#333',1.5,null,'x-tick');
    txt(g,X(v),c.b[3]+25,v<0?'−'+(-v):String(v),19,'middle','x-tick-label');});
  txt(g,(c.b[0]+c.b[2])/2,c.b[3]+47,'PC1 ('+bPct[i][0]+'%)',19,'middle','x-axis-title');
  vtxt(g,c.lx,(c.b[1]+c.b[3])/2,'PC2 ('+bPct[i][1]+'%)',19,'y-axis-title');
  const t=mk('text',{x:0,y:0,'font-size':(19*FS).toFixed(1),'text-anchor':'middle',fill:'#111',transform:'translate('+c.tx+' '+c.ty+') scale('+SX+' 1)'},g);
  
  
  t.innerHTML='PCDI <tspan fill="'+P+'">•</tspan> High <tspan fill="'+G+'">•</tspan> Low';
});

// ---- Row C
const cCfg=[
 {b:[75,1103,431,1290],x:[0,90,10,418],y:[1282,1113],n:10,lx:17,rb:[75,1363,431,1422],ry:[1378,1404],nar:[77,1354],ls:144,lgy:1089,px:161,py:1127},
 {b:[527,1102,867,1288],x:[0,542,8,846],y:[1280,1111],n:8,lx:463,rb:[524,1365,867,1427],ry:[1381,1408],nar:[528,1355],ls:592,lgy:1087,px:610,py:1124},
 {b:[964,1103,1317,1287],x:[0,981,13,1313],y:[1279,1111],n:13,lx:903,rb:[964,1363,1317,1422],ry:[1378,1404],nar:[968,1353],ls:1032,lgy:1087,px:1056,py:1124},
 {b:[1409,1102,1769,1288],x:[0,1426,12,1759],y:[1280,1107],n:12,lx:1349,rb:[1409,1362,1769,1421],ry:[1375,1403],nar:[1412,1348],ls:1476,lgy:1085,px:1508,py:1122}];
const cGroups=[
 [[c1HighT,c1HighS,c1HighU,c1HighL,c1HighCens],[c1LowT,c1LowS,c1LowU,c1LowL,c1LowCens]],
 [[c2HighT,c2HighS,c2HighU,c2HighL,c2HighCens],[c2LowT,c2LowS,c2LowU,c2LowL,c2LowCens]],
 [[c3HighT,c3HighS,c3HighU,c3HighL,c3HighCens],[c3LowT,c3LowS,c3LowU,c3LowL,c3LowCens]],
 [[c4HighT,c4HighS,c4HighU,c4HighL,c4HighCens],[c4LowT,c4LowS,c4LowU,c4LowL,c4LowCens]]];
const cRisk=[[c1RiskHigh,c1RiskLow],[c2RiskHigh,c2RiskLow],[c3RiskHigh,c3RiskLow],[c4RiskHigh,c4RiskLow]];
function stepAt(T,S,t){let v=S[0];for(let k=0;k<T.length;k++){if(T[k]<=t)v=S[k];}return v;}
function stepPts(T,S,X,Y){const a=[[X(T[0]),Y(S[0])]];for(let k=1;k<T.length;k++){a.push([X(T[k]),Y(S[k-1])]);a.push([X(T[k]),Y(S[k])]);}return a;}
cCfg.forEach((c,i)=>{
  const g=grp('km-panel');
  const X=lin(c.x[0],c.x[1],c.x[2],c.x[3]), Y=lin(0,c.y[0],1,c.y[1]);
  for(let v=0;v<=c.n+0.6;v+=0.5){const xx=X(v);if(xx>c.b[2])break;line(g,xx,c.b[1],xx,c.b[3],v%1===0?'#e3e3e3':'#f0f0f0',v%1===0?1.6:1.1,null,'grid-v');}
  for(let v=0;v<=1.0001;v+=0.125){line(g,c.b[0],Y(v),c.b[2],Y(v),(v*8)%2===0?'#e3e3e3':'#f0f0f0',(v*8)%2===0?1.6:1.1,null,'grid-h');}
  cGroups[i].forEach((gr,j)=>{
    const up=stepPts(gr[0],gr[2],X,Y), lo=stepPts(gr[0],gr[3],X,Y).reverse();
    const pg=mk('polygon',{points:up.concat(lo).map(p=>p[0].toFixed(1)+','+p[1].toFixed(1)).join(' '),fill:j===0?'rgba(150,60,150,0.33)':'rgba(80,160,80,0.30)'},g);
    
    
  });
  const meds=cMedians[i];
  const mx=Math.max(...meds);
  line(g,X(0),Y(0.5),X(mx),Y(0.5),'#222',2,'14 9','median-hline');
  meds.forEach(m=>line(g,X(m),Y(0.5),X(m),Y(0),'#222',2,'14 9','median-vline'));
  cGroups[i].forEach((gr,j)=>{
    const pts=stepPts(gr[0],gr[1],X,Y);
    const pl=mk('polyline',{points:pts.map(p=>p[0].toFixed(1)+','+p[1].toFixed(1)).join(' '),fill:'none',stroke:j===0?P:G,'stroke-width':2.4},g);
    
    
    gr[4].forEach(t=>{const yy=Y(stepAt(gr[0],gr[1],t)),xx=X(t);
      line(g,xx-6,yy,xx+6,yy,j===0?P:G,2.6,null,'censor-mark');
      line(g,xx,yy-7,xx,yy+7,j===0?P:G,2.6,null,'censor-mark');});
  });
  box(g,c.b,'#333',2.2,'plot-frame');
  ['0.00','0.25','0.50','0.75','1.00'].forEach((s,k)=>{const v=k*0.25;
    line(g,c.b[0]-4,Y(v),c.b[0],Y(v),'#555',1.5,null,'y-tick');
    txt(g,c.b[0]-4,Y(v)+8,s,19,'end','y-tick-label',{fill:'#333'});});
  for(let v=0;v<=c.n;v++){line(g,X(v),c.b[3],X(v),c.b[3]+4,'#555',1.5,null,'x-tick');
    txt(g,X(v),c.b[3]+26,String(v),19,'middle','x-tick-label',{fill:'#444'});}
  txt(g,(c.b[0]+c.b[2])/2,c.b[3]+46,'Overall Survival (years)',19,'middle','x-axis-title');
  vtxt(g,c.lx+2,(c.b[1]+c.b[3])/2,'Survival probability',19,'y-axis-title');
  txt(g,c.px,c.py,cP[i],18,'start','p-value');
  txt(g,c.px,c.py+21,cHR[i],18,'start','hazard-ratio');
  const lg=grp('km-legend');
  txt(lg,c.ls,c.lgy,'PCDI High',19,'start','legend-title');
  const sw=[[c.ls+106,P,'rgba(150,60,150,0.35)'],[c.ls+182,G,'rgba(80,160,80,0.32)']];
  txt(lg,c.ls+134,c.lgy,'Low',19,'start','legend-low');
  sw.forEach(s=>{const r=mk('rect',{x:s[0],y:c.lgy-15,width:16,height:17,fill:s[2]},lg);
    
    
    line(lg,s[0]+2,c.lgy-7,s[0]+14,c.lgy-7,s[1],2.4,null,'legend-mark');
    line(lg,s[0]+8,c.lgy-13,s[0]+8,c.lgy-1,s[1],2.4,null,'legend-mark');});
  const rg=grp('risk-table');
  for(let v=0;v<=c.n+0.6;v+=0.5){const xx=X(v);if(xx>c.rb[2])break;line(rg,xx,c.rb[1],xx,c.rb[3],v%1===0?'#e6e6e6':'#f2f2f2',v%1===0?1.5:1,null,'grid-v');}
  box(rg,c.rb,'#333',2.2,'risk-frame');
  txt(rg,c.nar[0],c.nar[1],'Number at risk',19,'start','risk-title');
  cRisk[i][0].forEach((v,k)=>txt(rg,X(k),c.ry[0]+8,String(v),19,'middle','risk-high-count',{fill:P}));
  cRisk[i][1].forEach((v,k)=>txt(rg,X(k),c.ry[1]+8,String(v),19,'middle','risk-low-count',{fill:G}));
  txt(rg,c.rb[0]-3,c.ry[0]+8,'High',19,'end','risk-high-label',{fill:P});
  txt(rg,c.rb[0]-3,c.ry[1]+8,'Low',19,'end','risk-low-label',{fill:G});
  vtxt(rg,c.lx+3,(c.rb[1]+c.rb[3])/2,'PCDI',19,'risk-y-title');
  for(let v=0;v<=c.n;v++){line(rg,X(v),c.rb[3],X(v),c.rb[3]+4,'#555',1.5,null,'x-tick');
    txt(rg,X(v),c.rb[3]+25,String(v),19,'middle','x-tick-label',{fill:'#444'});}
  txt(rg,(c.rb[0]+c.rb[2])/2,c.rb[3]+47,'Overall Survival (years)',19,'middle','x-axis-title');
});
</script>
</body></html>
